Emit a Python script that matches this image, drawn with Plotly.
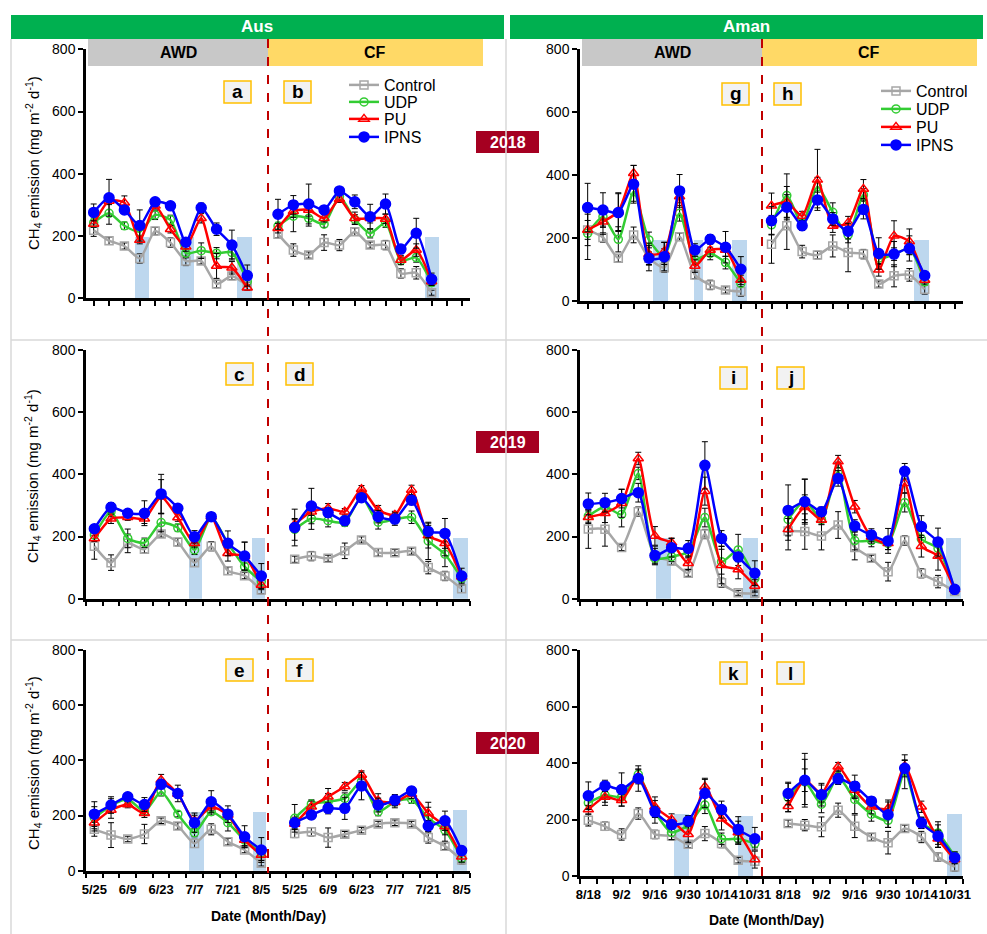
import plotly.graph_objects as go

W, H = 987, 934
def PX(x): return x / W
def PY(y): return 1 - y / H

FONT = "Liberation Sans, Arial, sans-serif"

aus_dates = ["5/25", "6/9", "6/23", "7/7", "7/21", "8/5"]
aman_dates = ["8/18", "9/2", "9/16", "9/30", "10/14", "10/31"]
treatments = ["Control", "UDP", "PU", "IPNS"]

# ---------------- Aus 2018 ----------------
a_control = [219, 185, 168, 128, 216, 179, 120, 120, 46, 72, 40]
a_udp = [243, 273, 233, 214, 268, 252, 145, 153, 145, 147, 54]
a_pu = [239, 313, 307, 187, 297, 222, 166, 257, 104, 98, 34]
a_ipns = [276, 323, 284, 234, 310, 297, 180, 291, 222, 171, 73]
a_control_err = [20, 12, 10, 15, 12, 15, 15, 10, 12, 12, 12]
a_udp_err = [15, 35, 12, 15, 15, 15, 15, 25, 18, 20, 10]
a_pu_err = [10, 12, 22, 12, 10, 12, 15, 15, 40, 20, 8]
a_ipns_err = [27, 59, 12, 50, 10, 12, 12, 15, 20, 48, 34]

b_control = [206, 155, 139, 179, 171, 214, 171, 171, 80, 82, 18]
b_udp = [232, 264, 257, 238, 327, 254, 209, 243, 121, 131, 50]
b_pu = [225, 280, 284, 257, 318, 257, 257, 255, 123, 155, 54]
b_ipns = [270, 300, 303, 284, 345, 310, 262, 303, 158, 209, 61]
b_control_err = [12, 20, 10, 25, 18, 12, 10, 15, 15, 20, 8]
b_udp_err = [12, 50, 25, 10, 10, 15, 15, 15, 12, 15, 10]
b_pu_err = [15, 20, 20, 12, 10, 20, 15, 15, 15, 20, 10]
b_ipns_err = [48, 30, 64, 12, 10, 22, 40, 32, 12, 48, 20]

# ---------------- Aman 2018 ----------------
g_control = [226, 202, 136, 210, 136, 106, 204, 83, 51, 35, 30]
g_udp = [215, 268, 196, 347, 194, 141, 279, 132, 151, 122, 56]
g_pu = [226, 252, 284, 406, 149, 157, 332, 111, 162, 162, 67]
g_ipns = [297, 289, 281, 371, 136, 141, 350, 162, 196, 171, 101]
g_control_err = [30, 15, 12, 25, 20, 15, 12, 12, 15, 10, 15]
g_udp_err = [83, 30, 40, 30, 25, 25, 25, 15, 20, 20, 10]
g_pu_err = [50, 40, 60, 25, 35, 30, 20, 20, 20, 20, 15]
g_ipns_err = [77, 55, 60, 60, 40, 45, 52, 20, 15, 50, 40]

h_control = [180, 239, 157, 146, 175, 154, 149, 54, 80, 83, 37]
h_udp = [242, 335, 245, 363, 282, 210, 337, 136, 149, 167, 61]
h_pu = [303, 314, 270, 385, 238, 249, 356, 99, 207, 189, 67]
h_ipns = [255, 298, 239, 321, 261, 222, 291, 151, 149, 167, 81]
h_control_err = [60, 75, 20, 12, 35, 61, 15, 10, 35, 20, 15]
h_udp_err = [30, 69, 15, 30, 30, 25, 20, 20, 20, 20, 10]
h_pu_err = [40, 50, 15, 97, 20, 20, 30, 20, 48, 40, 10]
h_ipns_err = [45, 40, 15, 25, 20, 25, 30, 50, 40, 40, 10]

# ---------------- Aus 2019 ----------------
c_control = [169, 116, 178, 159, 208, 182, 116, 169, 90, 74, 28]
c_udp = [205, 280, 194, 180, 245, 228, 157, 264, 178, 103, 55]
c_pu = [194, 257, 262, 257, 328, 261, 178, 264, 146, 137, 44]
c_ipns = [225, 294, 275, 275, 337, 291, 199, 264, 178, 137, 73]
c_control_err = [42, 25, 30, 12, 10, 12, 12, 15, 12, 10, 12]
c_udp_err = [12, 15, 30, 15, 30, 12, 15, 10, 12, 12, 10]
c_pu_err = [10, 15, 10, 15, 55, 12, 12, 10, 25, 45, 15]
c_ipns_err = [12, 15, 10, 40, 63, 12, 20, 12, 40, 45, 40]

d_control = [127, 137, 130, 154, 189, 149, 148, 153, 100, 73, 32]
d_udp = [223, 258, 251, 245, 328, 246, 256, 262, 186, 143, 65]
d_pu = [239, 280, 291, 280, 352, 285, 269, 350, 203, 178, 71]
d_ipns = [229, 298, 277, 251, 325, 264, 256, 317, 216, 210, 73]
d_control_err = [10, 15, 10, 25, 10, 12, 10, 10, 20, 15, 12]
d_udp_err = [35, 35, 20, 12, 10, 22, 15, 20, 60, 40, 12]
d_pu_err = [15, 12, 15, 10, 12, 15, 12, 15, 40, 40, 12]
d_ipns_err = [59, 57, 15, 15, 10, 20, 20, 15, 20, 48, 25]

# ---------------- Aman 2019 ----------------
i_control = [224, 223, 165, 280, 137, 121, 82, 208, 51, 19, 17]
i_udp = [266, 296, 271, 403, 130, 135, 151, 261, 119, 157, 65]
i_pu = [262, 275, 307, 451, 202, 180, 114, 346, 108, 94, 41]
i_ipns = [305, 309, 322, 341, 139, 164, 162, 429, 194, 134, 82]
i_control_err = [62, 54, 10, 15, 25, 12, 10, 15, 15, 8, 8]
i_udp_err = [20, 20, 40, 20, 15, 15, 20, 30, 40, 50, 20]
i_pu_err = [20, 30, 45, 20, 30, 15, 20, 45, 60, 30, 20]
i_ipns_err = [35, 30, 30, 30, 30, 30, 25, 76, 25, 15, 40]

j_control = [218, 216, 202, 237, 165, 130, 87, 187, 82, 55, 23]
j_udp = [255, 315, 255, 409, 187, 187, 178, 309, 192, 162, 30]
j_pu = [223, 294, 253, 441, 296, 199, 178, 371, 169, 137, 30]
j_ipns = [284, 312, 280, 387, 234, 205, 186, 410, 232, 182, 30]
j_control_err = [61, 57, 45, 43, 40, 10, 30, 15, 15, 20, 8]
j_udp_err = [40, 70, 15, 30, 30, 20, 20, 30, 30, 30, 10]
j_pu_err = [35, 40, 15, 20, 20, 20, 20, 30, 35, 45, 10]
j_ipns_err = [82, 72, 15, 25, 20, 20, 40, 25, 35, 45, 10]

# ---------------- Aus 2020 ----------------
e_control = [150, 129, 115, 133, 181, 162, 99, 150, 105, 75, 27]
e_udp = [192, 236, 260, 214, 286, 205, 138, 214, 174, 111, 65]
e_pu = [174, 220, 240, 208, 329, 278, 181, 232, 202, 111, 57]
e_ipns = [205, 238, 268, 240, 313, 280, 174, 250, 205, 123, 75]
e_control_err = [25, 45, 10, 35, 10, 12, 15, 20, 12, 10, 10]
e_udp_err = [40, 25, 15, 12, 15, 10, 15, 12, 30, 20, 15]
e_pu_err = [30, 30, 12, 15, 20, 15, 20, 15, 15, 25, 20]
e_ipns_err = [45, 30, 12, 25, 15, 30, 35, 40, 30, 40, 45]

f_control = [135, 141, 120, 132, 147, 169, 174, 169, 120, 89, 39]
f_udp = [190, 242, 250, 262, 323, 214, 250, 259, 190, 147, 45]
f_pu = [169, 232, 268, 305, 347, 254, 248, 277, 208, 160, 51]
f_ipns = [174, 202, 226, 226, 307, 238, 256, 289, 162, 181, 73]
f_control_err = [15, 15, 35, 10, 10, 10, 10, 10, 20, 12, 15]
f_udp_err = [50, 15, 30, 20, 15, 15, 15, 15, 40, 40, 15]
f_pu_err = [20, 20, 30, 15, 15, 25, 20, 15, 40, 30, 20]
f_ipns_err = [20, 15, 20, 40, 50, 25, 20, 15, 20, 35, 15]

# ---------------- Aman 2020 ----------------
k_control = [197, 176, 147, 221, 147, 142, 112, 150, 115, 56, 52]
k_udp = [259, 286, 280, 359, 227, 154, 180, 251, 132, 132, 115]
k_pu = [235, 280, 268, 351, 245, 200, 148, 316, 203, 154, 58]
k_ipns = [284, 319, 306, 345, 227, 182, 194, 292, 235, 165, 132]
k_control_err = [20, 15, 20, 20, 15, 15, 12, 25, 15, 10, 15]
k_udp_err = [20, 25, 20, 20, 40, 25, 30, 30, 20, 20, 15]
k_pu_err = [15, 30, 20, 25, 35, 20, 30, 30, 40, 40, 30]
k_ipns_err = [49, 20, 59, 45, 20, 15, 20, 50, 30, 45, 40]

l_control = [186, 180, 174, 233, 176, 138, 118, 168, 138, 67, 32]
l_udp = [278, 333, 254, 351, 271, 219, 197, 369, 188, 152, 70]
l_pu = [247, 339, 292, 387, 304, 245, 239, 389, 245, 132, 58]
l_ipns = [292, 339, 288, 344, 318, 265, 217, 381, 188, 141, 65]
l_control_err = [12, 20, 35, 25, 40, 12, 40, 12, 20, 15, 15]
l_udp_err = [50, 80, 30, 20, 50, 25, 25, 60, 20, 40, 15]
l_pu_err = [20, 40, 30, 15, 30, 25, 30, 20, 20, 30, 15]
l_ipns_err = [40, 95, 40, 20, 39, 15, 45, 30, 20, 40, 20]

# ---------------- drying periods (shaded bars, category units) ----------------
aus18_dry_x = [3.15, 6.09, 9.83, 22.02]
aus18_dry_w = [0.9, 0.9, 0.95, 0.95]
aus18_dry_h = [195, 195, 195, 195]
aman18_dry_x = [4.73, 7.22, 9.89, 21.77]
aman18_dry_w = [0.98, 0.57, 0.96, 0.98]
aman18_dry_h = [194, 194, 194, 194]
aus19_dry_x = [6.04, 9.84, 21.95]
aus19_dry_w = [0.8, 0.8, 0.9]
aus19_dry_h = [195, 195, 195]
aman19_dry_x = [4.51, 9.74, 21.95]
aman19_dry_w = [0.9, 0.92, 0.9]
aman19_dry_h = [195, 195, 195]
aus20_dry_x = [6.13, 9.9, 21.91]
aus20_dry_w = [0.9, 0.8, 0.86]
aus20_dry_h = [213, 214, 220]
aman20_dry_x = [5.59, 9.41, 22.01]
aman20_dry_w = [0.9, 0.9, 0.9]
aman20_dry_h = [219, 213, 219]

styles = {
    "Control": dict(color="#a6a6a6", symbol="square-open", size=8),
    "UDP": dict(color="#33cc33", symbol="circle-open", size=8),
    "PU": dict(color="#ff0000", symbol="triangle-up-open", size=9),
    "IPNS": dict(color="#0000ff", symbol="circle", size=10),
}

# one single-entry legend per treatment, per season panel
aus_legends = ["legend", "legend3", "legend4", "legend5"]
aman_legends = ["legend2", "legend6", "legend7", "legend8"]

panels = [
    dict(awd=[a_control, a_udp, a_pu, a_ipns], awd_err=[a_control_err, a_udp_err, a_pu_err, a_ipns_err],
         cf=[b_control, b_udp, b_pu, b_ipns], cf_err=[b_control_err, b_udp_err, b_pu_err, b_ipns_err],
         dry=(aus18_dry_x, aus18_dry_w, aus18_dry_h), box=(86, 470, 49.3, 298.3), ncat=25,
         ticks="center", labels=None, legend=aus_legends),
    dict(awd=[g_control, g_udp, g_pu, g_ipns], awd_err=[g_control_err, g_udp_err, g_pu_err, g_ipns_err],
         cf=[h_control, h_udp, h_pu, h_ipns], cf_err=[h_control_err, h_udp_err, h_pu_err, h_ipns_err],
         dry=(aman18_dry_x, aman18_dry_w, aman18_dry_h), box=(580, 963, 49.3, 301), ncat=25,
         ticks="center", labels=None, legend=aman_legends),
    dict(awd=[c_control, c_udp, c_pu, c_ipns], awd_err=[c_control_err, c_udp_err, c_pu_err, c_ipns_err],
         cf=[d_control, d_udp, d_pu, d_ipns], cf_err=[d_control_err, d_udp_err, d_pu_err, d_ipns_err],
         dry=(aus19_dry_x, aus19_dry_w, aus19_dry_h), box=(86, 470, 350, 598.7), ncat=23,
         ticks="edge", labels=None, legend=None),
    dict(awd=[i_control, i_udp, i_pu, i_ipns], awd_err=[i_control_err, i_udp_err, i_pu_err, i_ipns_err],
         cf=[j_control, j_udp, j_pu, j_ipns], cf_err=[j_control_err, j_udp_err, j_pu_err, j_ipns_err],
         dry=(aman19_dry_x, aman19_dry_w, aman19_dry_h), box=(580, 963, 350, 598.7), ncat=23,
         ticks="edge", labels=None, legend=None),
    dict(awd=[e_control, e_udp, e_pu, e_ipns], awd_err=[e_control_err, e_udp_err, e_pu_err, e_ipns_err],
         cf=[f_control, f_udp, f_pu, f_ipns], cf_err=[f_control_err, f_udp_err, f_pu_err, f_ipns_err],
         dry=(aus20_dry_x, aus20_dry_w, aus20_dry_h), box=(86, 470, 650, 870.7), ncat=23,
         ticks="edge", labels=aus_dates, legend=None),
    dict(awd=[k_control, k_udp, k_pu, k_ipns], awd_err=[k_control_err, k_udp_err, k_pu_err, k_ipns_err],
         cf=[l_control, l_udp, l_pu, l_ipns], cf_err=[l_control_err, l_udp_err, l_pu_err, l_ipns_err],
         dry=(aman20_dry_x, aman20_dry_w, aman20_dry_h), box=(580, 963, 650, 876), ncat=23,
         ticks="edge", labels=aman_dates, legend=None),
]

fig = go.Figure()
layout = dict()

awd_pos = list(range(11))
cf_pos = list(range(12, 23))

for p_i, p in enumerate(panels):
    n = p_i + 1
    xa = "x" if n == 1 else f"x{n}"
    ya = "y" if n == 1 else f"y{n}"
    dx, dw, dh = p["dry"]
    fig.add_trace(go.Bar(x=dx, y=dh, width=dw, marker=dict(color="#bdd7ee", line=dict(width=0)),
                         xaxis=xa, yaxis=ya, showlegend=False, hoverinfo="skip"))
    for t_i, t in enumerate(treatments):
        st = styles[t]
        xs = awd_pos + [11] + cf_pos
        ys = p["awd"][t_i] + [None] + p["cf"][t_i]
        es = p["awd_err"][t_i] + [0] + p["cf_err"][t_i]
        kw = dict(showlegend=False)
        if p["legend"]:
            kw = dict(showlegend=True, legend=p["legend"][t_i])
        fig.add_trace(go.Scatter(
            x=xs, y=ys, name=t, mode="lines+markers", xaxis=xa, yaxis=ya,
            line=dict(color=st["color"], width=2.5, shape="spline", smoothing=0.6),
            marker=dict(symbol=st["symbol"], size=st["size"], color=st["color"],
                        line=dict(color=st["color"], width=1.5)),
            error_y=dict(type="data", array=es, color="black", thickness=1, width=3),
            connectgaps=False, **kw))

    x0, x1, y0, y1 = p["box"]
    ncat = p["ncat"]
    xkey = "xaxis" if n == 1 else f"xaxis{n}"
    ykey = "yaxis" if n == 1 else f"yaxis{n}"
    xdict = dict(domain=[PX(x0), PX(x1)], anchor=ya, range=[-0.5, ncat - 0.5],
                 showgrid=False, zeroline=False, showline=True, linecolor="black", linewidth=2.5,
                 fixedrange=True, automargin=False)
    if p["labels"] is None:
        if p["ticks"] == "center":
            tv = list(range(ncat))
        else:
            tv = [k - 0.5 for k in range(ncat + 1)]
        xdict.update(tickmode="array", tickvals=tv, ticks="outside",
                     ticklen=5, tickwidth=1.5, tickcolor="black", showticklabels=False)
    else:
        tv = [0, 2, 4, 6, 8, 10, 12, 14, 16, 18, 20, 22]
        xdict.update(tickmode="array", tickvals=tv, ticktext=p["labels"] + p["labels"],
                     ticks="outside", ticklen=5, tickcolor="rgba(0,0,0,0)", tickangle=0,
                     tickfont=dict(family=FONT, size=13, color="black", weight="bold"),
                     minor=dict(tickmode="array", tickvals=[k - 0.5 for k in range(ncat + 1)],
                                ticks="outside", ticklen=5, tickwidth=1.5, tickcolor="black"))
    layout[xkey] = xdict
    layout[ykey] = dict(domain=[PY(y1), PY(y0)], anchor=xa, range=[0, 800],
                        tickmode="array", tickvals=[0, 200, 400, 600, 800],
                        ticks="outside", ticklen=5, tickwidth=1.5, tickcolor="black",
                        showgrid=False, zeroline=False, showline=True, linecolor="black", linewidth=2.5,
                        tickfont=dict(family=FONT, size=14, color="black"), fixedrange=True,
                        automargin=False)

shapes = []
annotations = []

def rect(x0, y0, x1, y1, fill, line_color=None, lw=0):
    shapes.append(dict(type="rect", xref="paper", yref="paper", x0=PX(x0), x1=PX(x1),
                       y0=PY(y1), y1=PY(y0), fillcolor=fill,
                       line=dict(color=line_color or fill, width=lw), layer="below"))

def text(x, y, s, size, color="black", bold=False, angle=0):
    annotations.append(dict(xref="paper", yref="paper", x=PX(x), y=PY(y), text=s, showarrow=False,
                            xanchor="center", yanchor="middle", textangle=angle,
                            font=dict(family=FONT, size=size, color=color,
                                      weight="bold" if bold else "normal")))

def line(x0, y0, x1, y1, color, width, dash="solid"):
    shapes.append(dict(type="line", xref="paper", yref="paper", x0=PX(x0), x1=PX(x1),
                       y0=PY(y0), y1=PY(y1), line=dict(color=color, width=width, dash=dash)))

# frame lines
for xx in (11, 506):
    line(xx, 39, xx, 934, "#d9d9d9", 1.5)
for yy in (340, 640):
    line(11, yy, 987, yy, "#d9d9d9", 1.5)

# season header bars
rect(11, 15, 504, 39, "#00b050")
text(257, 27, "Aus", 17, "white", True)
rect(510, 15, 983, 39, "#00b050")
text(746, 27, "Aman", 17, "white", True)

# AWD / CF strips
rect(88, 39, 268, 66, "#c8c8c8")
text(178, 53, "AWD", 16, "black", True)
rect(268, 39, 483, 66, "#ffd966")
text(375, 53, "CF", 16, "black", True)
rect(582, 39, 762, 66, "#c8c8c8")
text(672, 53, "AWD", 16, "black", True)
rect(762, 39, 977, 66, "#ffd966")
text(869, 53, "CF", 16, "black", True)

# year labels
for yr, yc in (("2018", 142), ("2019", 442), ("2020", 743)):
    rect(476, yc - 11, 539, yc + 11, "#a50021")
    text(507.5, yc + 0.5, yr, 16, "white", True)

# panel letters
letters = [("a", 224, 81), ("b", 284, 81), ("g", 722, 83), ("h", 774, 83),
           ("c", 226, 363), ("d", 286, 363), ("i", 720, 367), ("j", 777, 367),
           ("e", 226, 659), ("f", 286, 659), ("k", 720, 662), ("l", 777, 662)]
for s, lx, ly in letters:
    rect(lx, ly, lx + 27, ly + 22, "#f2f2f2", "#ffc000", 1.5)
    text(lx + 13.5, ly + 11, s, 19, "black", True)

# red dashed separators
line(268, 39, 268, 873, "#c00000", 2, "dash")
line(762, 39, 762, 876, "#c00000", 2, "dash")

# y titles
ytitle = "CH<sub>4</sub> emission (mg m<sup>-2</sup> d<sup>-1</sup>)"
for yc in (163, 476, 763):
    text(33, yc, ytitle, 15, "black", False, -90)

# x titles
text(268, 916, "Date (Month/Day)", 14, "black", True)
text(766, 920, "Date (Month/Day)", 14, "black", True)

legend_common = dict(bgcolor="rgba(0,0,0,0)", font=dict(family=FONT, size=16, color="black"),
                     xanchor="left", yanchor="middle", traceorder="normal", tracegroupgap=0,
                     itemwidth=30)
aus_rows = [85, 102, 119, 137]
aman_rows = [91, 109, 127, 145]
legend_layout = {}
for name, yr in zip(aus_legends, aus_rows):
    legend_layout[name] = dict(x=PX(344), y=PY(yr), **legend_common)
for name, yr in zip(aman_legends, aman_rows):
    legend_layout[name] = dict(x=PX(876), y=PY(yr), **legend_common)

fig.update_layout(
    template="none",
    width=W, height=H, margin=dict(l=0, r=0, t=0, b=0, autoexpand=False),
    paper_bgcolor="white", plot_bgcolor="rgba(0,0,0,0)",
    barmode="overlay", bargap=0,
    shapes=shapes, annotations=annotations,
    **legend_layout,
    **layout,
)

fig.write_html("out.html", config={"displayModeBar": False},
               post_script="document.body.style.margin='0';document.body.style.overflow='hidden';")
